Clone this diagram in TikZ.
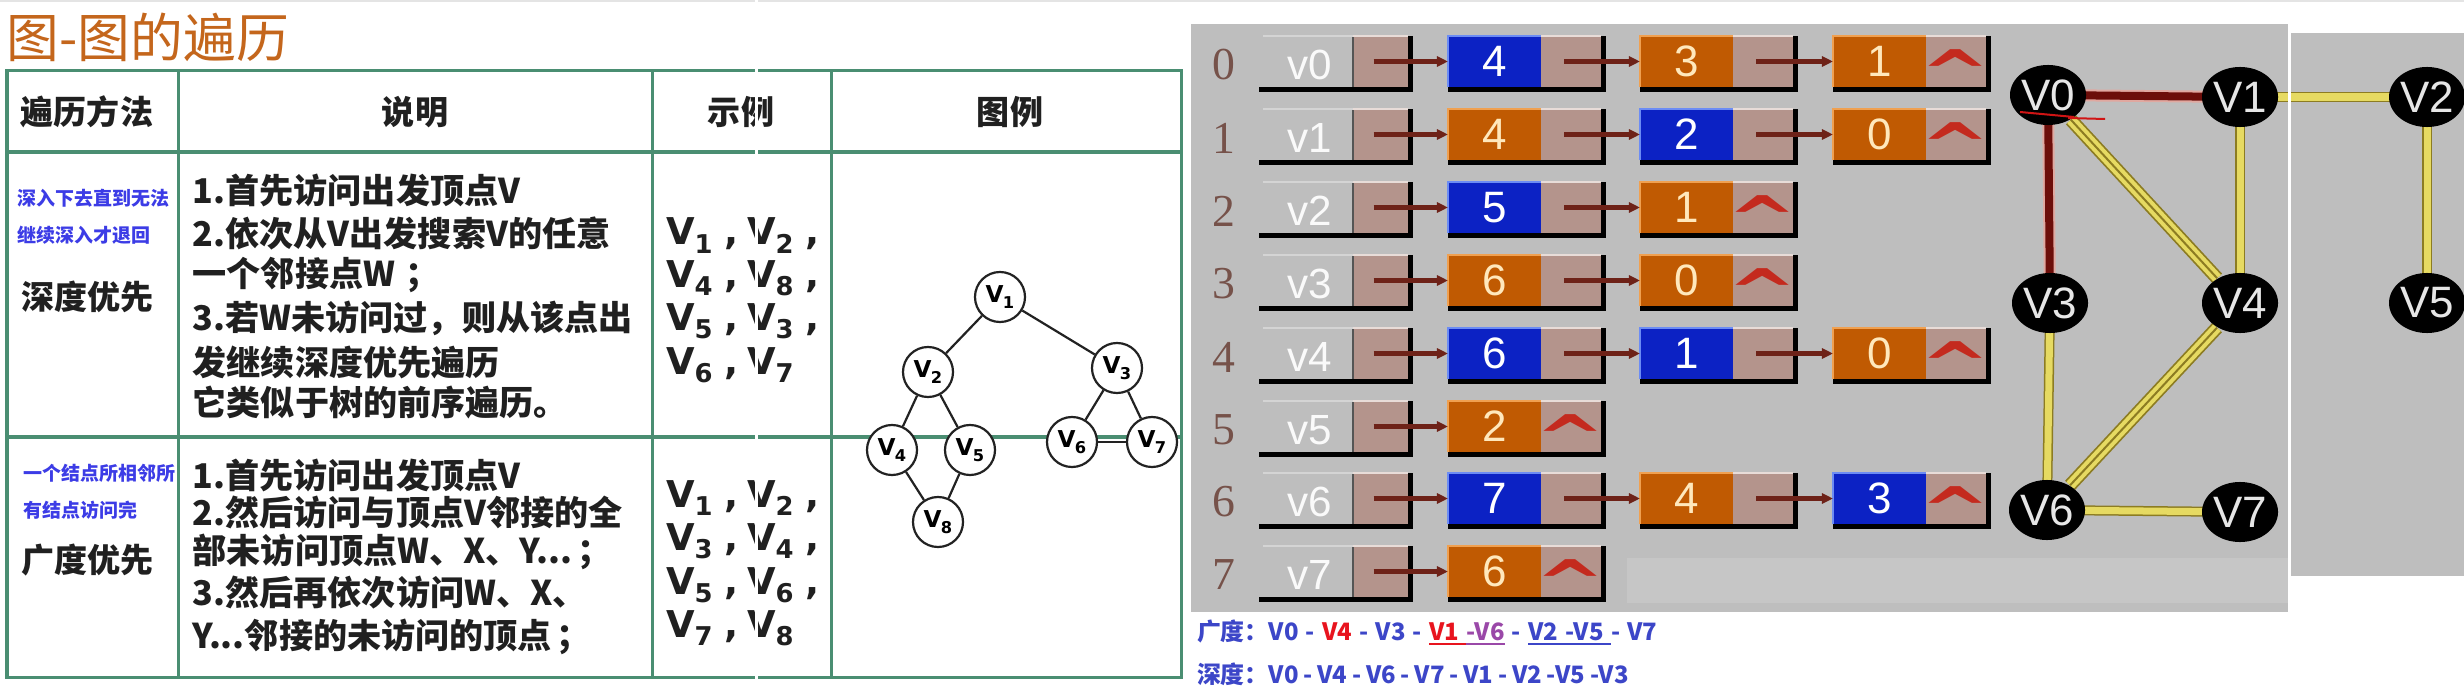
\documentclass[tikz,border=0pt]{standalone}
\usepackage{fontspec}
\usetikzlibrary{shapes.geometric,arrows.meta}
\newfontfamily\cjk{Noto Sans CJK SC}
\newfontfamily\dvs{DejaVu Sans}
\newfontfamily\lsans{Liberation Sans}
\newfontfamily\lserif{Liberation Serif}
\newcommand\fs[1]{\fontsize{#1}{#1}\selectfont}
\newcommand\vsb[2]{#1\kern-0.2pt\raisebox{-0.24em}{\scalebox{0.7}{#2}}}
\newcommand\gp{\kern0.3em}
\newcommand\gq{\kern0.2em}
\newcommand\ulc[2]{\setbox0\hbox{{\color{#1}#2}}\rlap{{\color{#1}\rule[-1.3pt]{\wd0}{0.45pt}}}\box0}
\definecolor{tblc}{HTML}{4A8E72}
\definecolor{titlec}{HTML}{C4661C}
\definecolor{txtc}{HTML}{202020}
\definecolor{notec}{HTML}{3C3CE6}
\definecolor{tc}{HTML}{222222}
\definecolor{panel}{HTML}{BEBEBE}
\definecolor{panel2}{HTML}{C6C6C6}
\definecolor{topband}{HTML}{E4E4E4}
\definecolor{ptrc}{HTML}{B4948C}
\definecolor{ptrhi}{HTML}{E8DCD8}
\definecolor{nblue}{HTML}{0C22C4}
\definecolor{nbluehi}{HTML}{6C8CF4}
\definecolor{norange}{HTML}{C05A02}
\definecolor{norangehi}{HTML}{F0A050}
\definecolor{ncream}{HTML}{FFE8BC}
\definecolor{idxc}{HTML}{76524A}
\definecolor{vlabc}{HTML}{FAFAFA}
\definecolor{vsepc}{HTML}{555555}
\definecolor{vtopc}{HTML}{D4D4D4}
\definecolor{arrc}{HTML}{6E2218}
\definecolor{caretc}{HTML}{C42A1E}
\definecolor{gtextc}{HTML}{E6E6E6}
\definecolor{rdark}{HTML}{6C0E0A}
\definecolor{rpink}{HTML}{E0A8A0}
\definecolor{yfill}{HTML}{E6DA62}
\definecolor{ybase}{HTML}{8C7C22}
\definecolor{btc}{HTML}{3C46C8}
\definecolor{bred}{HTML}{E8141E}
\definecolor{bpurp}{HTML}{9A48A8}
\definecolor{annot}{HTML}{D01414}
\pgfdeclarelayer{bg}
\pgfdeclarelayer{edges}
\pgfdeclarelayer{top}
\pgfsetlayers{bg,edges,main,top}
\newcommand\hdrow[2]{%
  \node[idx] (i#1) at (1224,#2) {#1};
  \node[ptrcell,minimum width=0.55cm] (hp#1) at (1380.5,{#2-3.5}) {};
  \node[vlab] (v#1) at (1310,#2) {v#1};
  \coordinate (u#1) at (1259,{#2+22});
  \fill (u#1) rectangle ([xshift=0.05cm,yshift=-0.05cm]hp#1.south east);
  \fill (hp#1.north east) rectangle ([xshift=0.05cm]hp#1.south east);
  \draw[vsep] (hp#1.north west) -- (hp#1.south west);
  \draw[ptrhi,line width=0.02cm] (hp#1.north west) -- (hp#1.north east);
  \draw[vtop] ([xshift=-0.9cm]hp#1.north west) -- (hp#1.north west);
}
\newcommand\cell[7]{%
  \node[datacell,fill=#4,text=#6] (d#1) at ({#2+46.5},{#3-3.5}) {\raisebox{-1.3pt}{#7}};
  \node[ptrcell] (p#1) at ({#2+123},{#3-3.5}) {};
  \fill (d#1.south west) rectangle ([xshift=0.05cm,yshift=-0.05cm]p#1.south east);
  \fill (p#1.north east) rectangle ([xshift=0.05cm]p#1.south east);
  \draw[#5,line width=0.02cm] (d#1.south west) -- (d#1.north west) -- (d#1.north east);
  \draw[ptrhi,line width=0.02cm] (p#1.north west) -- (p#1.north east);
}
\newcommand\bcell[4]{\cell{#1}{#2}{#3}{nblue}{nbluehi}{white}{#4}}
\newcommand\ocell[4]{\cell{#1}{#2}{#3}{norange}{norangehi}{ncream}{#4}}
\newcommand\nul[1]{\node[caret] (z#1) at ([yshift=-0.11cm]p#1.center) {\scalebox{1.7}[1.25]{\char"5E}};}
\newcommand\lnk[2]{\draw[arrs] ([xshift=-0.07cm]#1.center) -- (#2.west);}
\begin{document}
\begin{tikzpicture}[x=0.01cm,y=-0.01cm,
  tbl/.style={draw=tblc, line width=0.03cm},
  hdr/.style={font=\cjk\bfseries\fs{9.4pt}, text=txtc, inner sep=0},
  note/.style={font=\cjk\bfseries\fs{5.4pt}, text=notec, inner sep=0, anchor=west},
  meth/.style={font=\cjk\bfseries\fs{9.4pt}, text=txtc, inner sep=0, anchor=west},
  desc/.style={font=\cjk\bfseries\fs{9.7pt}, text=txtc, inner sep=0, anchor=west},
  ex/.style={font=\dvs\bfseries\fs{10.5pt}, text=txtc, inner sep=0, anchor=base west},
  tnode/.style={circle, draw=tc, fill=white, line width=0.022cm, minimum size=0.5cm, inner sep=0, font=\dvs\bfseries\fs{6.6pt}},
  tedge/.style={draw=tc, line width=0.022cm},
  idx/.style={font=\lserif\fs{13pt}, text=idxc, inner sep=0},
  vlab/.style={font=\lsans\fs{12pt}, text=vlabc, inner sep=0},
  ptrcell/.style={fill=ptrc, minimum width=0.6cm, minimum height=0.51cm, inner sep=0, outer sep=0},
  datacell/.style={minimum width=0.93cm, minimum height=0.51cm, inner sep=0, outer sep=0, font=\lsans\fs{12.5pt}},
  vsep/.style={draw=vsepc, line width=0.012cm},
  vtop/.style={draw=vtopc, line width=0.015cm},
  arrs/.style={draw=arrc, line width=0.045cm, -{Triangle[length=0.11cm,width=0.1cm]}},
  caret/.style={font=\dvs\bfseries\fs{14pt}, text=caretc, inner sep=0},
  gnode/.style={ellipse, fill=black, minimum width=0.66cm, minimum height=0.6cm, inner sep=0, font=\lsans\fs{12.5pt}, text=gtextc},
  redge/.style={draw=rdark, line width=0.08cm, preaction={draw=rpink, line width=0.12cm}},
  yedge/.style={draw=yfill, line width=0.07cm, preaction={draw=ybase, line width=0.1cm}},
  ydbl/.style={draw=yfill, line width=0.1cm, preaction={draw=ybase, line width=0.135cm}, postaction={draw=ybase, line width=0.02cm}},
  bt/.style={font=\cjk\bfseries\fs{6.8pt}, text=btc, inner sep=0, outer sep=0, anchor=base west}]
\useasboundingbox (0,0) rectangle (2464,691);
\begin{pgfonlayer}{bg}
  \fill[white] (0,0) rectangle (2464,691);
  \fill[topband] (0,0) rectangle (2464,2);
  \fill[panel] (1191,24) rectangle (2288,612);
  \fill[panel2] (1627,558) rectangle (2288,603);
  \fill[panel] (2291,33) rectangle (2464,576);
\end{pgfonlayer}

% title
\node[anchor=west, inner sep=0, text=titlec, font=\cjk\fs{15pt}] (title) at (6,37) {图-图的遍历};

% table
\draw[tbl] (7,71) rectangle (1181,677);
\draw[tbl] (178,71) -- (178,677);
\draw[tbl] (652,71) -- (652,677);
\draw[tbl] (831,71) -- (831,677);
\draw[tbl, line width=0.045cm] (7,152) -- (1181,152);
\draw[tbl, line width=0.045cm] (7,437) -- (1181,437);

\node[hdr] (th1) at (87,112) {遍历方法};
\node[hdr] (th2) at (415,112) {说明};
\node[hdr] (th3) at (741,112) {示例};
\node[hdr] (th4) at (1010,112) {图例};

\node[note] (n1) at (17,198) {深入下去直到无法};
\node[note] (n2) at (17,235) {继续深入才退回};
\node[meth] (m1) at (21,297) {深度优先};
\node[note] (n3) at (23,473) {一个结点所相邻所};
\node[note] (n4) at (23,510) {有结点访问完};
\node[meth] (m2) at (21,560) {广度优先};

\node[desc] (a1) at (192,190) {1.首先访问出发顶点V};
\node[desc] (a2) at (192,233) {2.依次从V出发搜索V的任意};
\node[desc] (a3) at (192,275) {一个邻接点W\kern0.3em；};
\node[desc] (a4) at (192,318) {3.若W未访问过，则从该点出};
\node[desc] (a5) at (192,362) {发继续深度优先遍历};
\node[desc] (a6) at (192,403) {它类似于树的前序遍历。};

\node[desc] (b1x) at (192,475) {1.首先访问出发顶点V};
\node[desc] (b2x) at (192,512) {2.然后访问与顶点V邻接的全};
\node[desc] (b3x) at (192,552) {部未访问顶点W、X、Y...\kern0.15em；};
\node[desc] (b4x) at (192,593) {3.然后再依次访问W、X、};
\node[desc] (b5x) at (192,637) {Y...邻接的未访问的顶点\kern0.15em；};

\node[ex] (e1) at (666,245) {\vsb{V}{1}\hspace{3.5pt},\hspace{2.5pt}\vsb{V}{2}\hspace{3.5pt},};
\node[ex] (e2) at (666,287) {\vsb{V}{4}\hspace{3.5pt},\hspace{2.5pt}\vsb{V}{8}\hspace{3.5pt},};
\node[ex] (e3) at (666,330) {\vsb{V}{5}\hspace{3.5pt},\hspace{2.5pt}\vsb{V}{3}\hspace{3.5pt},};
\node[ex] (e4) at (666,374) {\vsb{V}{6}\hspace{3.5pt},\hspace{2.5pt}\vsb{V}{7}};
\node[ex] (f1) at (666,507) {\vsb{V}{1}\hspace{3.5pt},\hspace{2.5pt}\vsb{V}{2}\hspace{3.5pt},};
\node[ex] (f2) at (666,550) {\vsb{V}{3}\hspace{3.5pt},\hspace{2.5pt}\vsb{V}{4}\hspace{3.5pt},};
\node[ex] (f3) at (666,594) {\vsb{V}{5}\hspace{3.5pt},\hspace{2.5pt}\vsb{V}{6}\hspace{3.5pt},};
\node[ex] (f4) at (666,637) {\vsb{V}{7}\hspace{3.5pt},\hspace{2.5pt}\vsb{V}{8}};

% tree
\node[tnode] (t1) at (1000,297) {\vsb{V}{1}};
\node[tnode] (t2) at (928,372) {\vsb{V}{2}};
\node[tnode] (t3) at (1117,368) {\vsb{V}{3}};
\node[tnode] (t4) at (892,450) {\vsb{V}{4}};
\node[tnode] (t5) at (970,450) {\vsb{V}{5}};
\node[tnode] (t6) at (1072,442) {\vsb{V}{6}};
\node[tnode] (t7) at (1152,442) {\vsb{V}{7}};
\node[tnode] (t8) at (938,522) {\vsb{V}{8}};
\draw[tedge] (t1) -- (t2);
\draw[tedge] (t1) -- (t3);
\draw[tedge] (t2) -- (t4);
\draw[tedge] (t2) -- (t5);
\draw[tedge] (t4) -- (t8);
\draw[tedge] (t5) -- (t8);
\draw[tedge] (t3) -- (t6);
\draw[tedge] (t3) -- (t7);
\draw[tedge] (t6) -- (t7);

% adjacency list
\hdrow{0}{65}
\bcell{01}{1448}{65}{4}
\ocell{02}{1640}{65}{3}
\ocell{03}{1833}{65}{1}
\nul{03}
\lnk{hp0}{d01}\lnk{p01}{d02}\lnk{p02}{d03}

\hdrow{1}{138}
\ocell{11}{1448}{138}{4}
\bcell{12}{1640}{138}{2}
\ocell{13}{1833}{138}{0}
\nul{13}
\lnk{hp1}{d11}\lnk{p11}{d12}\lnk{p12}{d13}

\hdrow{2}{211}
\bcell{21}{1448}{211}{5}
\ocell{22}{1640}{211}{1}
\nul{22}
\lnk{hp2}{d21}\lnk{p21}{d22}

\hdrow{3}{284}
\ocell{31}{1448}{284}{6}
\ocell{32}{1640}{284}{0}
\nul{32}
\lnk{hp3}{d31}\lnk{p31}{d32}

\hdrow{4}{357}
\bcell{41}{1448}{357}{6}
\bcell{42}{1640}{357}{1}
\ocell{43}{1833}{357}{0}
\nul{43}
\lnk{hp4}{d41}\lnk{p41}{d42}\lnk{p42}{d43}

\hdrow{5}{430}
\ocell{51}{1448}{430}{2}
\nul{51}
\lnk{hp5}{d51}

\hdrow{6}{502}
\bcell{61}{1448}{502}{7}
\ocell{62}{1640}{502}{4}
\bcell{63}{1833}{502}{3}
\nul{63}
\lnk{hp6}{d61}\lnk{p61}{d62}\lnk{p62}{d63}

\hdrow{7}{575}
\ocell{71}{1448}{575}{6}
\nul{71}
\lnk{hp7}{d71}

% graph
\node[gnode] (g0) at (2048,95) {V0};
\node[gnode] (g1) at (2240,97) {V1};
\node[gnode] (g2) at (2427,97) {V2};
\node[gnode] (g3) at (2050,303) {V3};
\node[gnode] (g4) at (2240,303) {V4};
\node[gnode] (g5) at (2427,303) {V5};
\node[gnode] (g6) at (2047,510) {V6};
\node[gnode] (g7) at (2240,512) {V7};
\begin{pgfonlayer}{edges}
  \draw[redge] (g0.center) -- (g1.center);
  \draw[redge] (g0.center) -- (g3.center);
  \draw[ydbl] (g0) -- (g4);
  \draw[ydbl] (g4) -- (g6);
  \draw[yedge] (g1.center) -- (g4.center);
  \draw[yedge] (g1.center) -- (g2.center);
  \draw[yedge] (g2.center) -- (g5.center);
  \draw[yedge] (g3.center) -- (g6.center);
  \draw[yedge] (g6.center) -- (g7.center);
\end{pgfonlayer}
\draw[annot, line width=0.02cm] (2020,112) -- (2074,117) (2068,118) -- (2105,119);

% bottom text
\node[bt] (s1) at (1197,640) {广度：V0\gp-\gp{\color{bred}V4}\gp-\gp V3\gp-\gp\ulc{bred}{V1\gp}\ulc{bpurp}{-V6}\gp-\gp\ulc{btc}{V2\gp-V5\gp}-\gp V7};
\node[bt] (s9) at (1197,683) {深度：V0\gq-\gq V4\gq-\gq V6\gq-\gq V7\gq-\gq V1\gq-\gq V2\gq-V5\gq-V3};

\begin{pgfonlayer}{top}
  \draw[white, line width=0.03cm] (756,0) -- (756,691);
  \draw[white, line width=0.03cm] (2289.5,24) -- (2289.5,612);
\end{pgfonlayer}
\end{tikzpicture}
\end{document}
